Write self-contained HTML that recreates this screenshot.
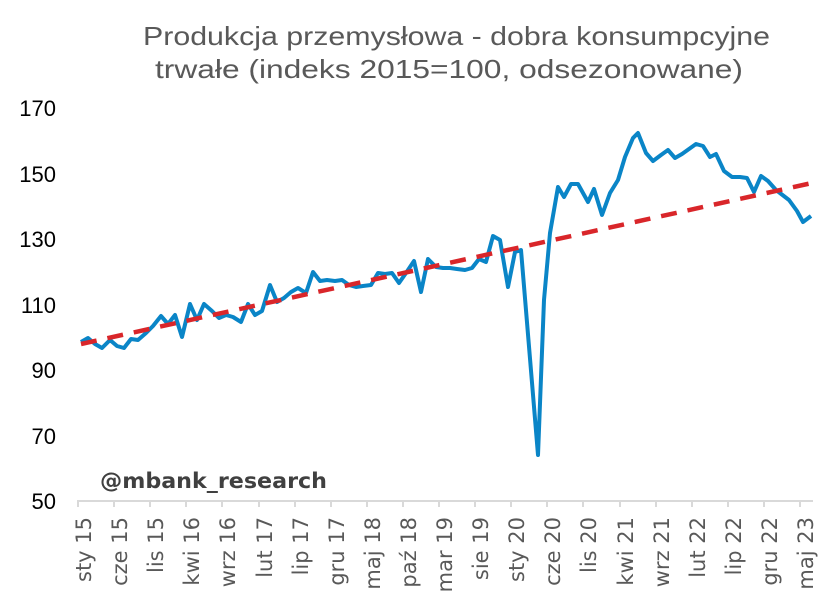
<!DOCTYPE html>
<html><head><meta charset="utf-8"><style>
html,body{margin:0;padding:0;background:#fff;}
svg{display:block;}
</style></head><body>
<svg width="840" height="611" viewBox="0 0 840 611" xmlns="http://www.w3.org/2000/svg">
<g font-family="Liberation Sans, DejaVu Sans, sans-serif" fill="#595959" font-size="26">
<text x="143" y="45" textLength="627" lengthAdjust="spacingAndGlyphs">Produkcja przemysłowa - dobra konsumpcyjne</text>
<text x="155" y="78" textLength="588" lengthAdjust="spacingAndGlyphs">trwałe (indeks 2015=100, odsezonowane)</text>
</g>
<g font-family="Liberation Sans, DejaVu Sans, sans-serif" fill="#000" font-size="22" text-anchor="end">
<text x="56" y="116">170</text>
<text x="56" y="182">150</text>
<text x="56" y="247">130</text>
<text x="56" y="313">110</text>
<text x="56" y="378">90</text>
<text x="56" y="444">70</text>
<text x="56" y="509">50</text>
</g>
<text x="100" y="488" font-family="DejaVu Sans, sans-serif" font-weight="bold" font-size="21" fill="#404040" textLength="227" lengthAdjust="spacingAndGlyphs">@mbank_research</text>
<g stroke="#d9d9d9" stroke-width="2">
<line x1="77" y1="501" x2="813" y2="501"/>
<line x1="78" y1="501" x2="78" y2="507"/><line x1="114" y1="501" x2="114" y2="507"/><line x1="150" y1="501" x2="150" y2="507"/><line x1="186" y1="501" x2="186" y2="507"/><line x1="222" y1="501" x2="222" y2="507"/><line x1="259" y1="501" x2="259" y2="507"/><line x1="295" y1="501" x2="295" y2="507"/><line x1="331" y1="501" x2="331" y2="507"/><line x1="367" y1="501" x2="367" y2="507"/><line x1="403" y1="501" x2="403" y2="507"/><line x1="439" y1="501" x2="439" y2="507"/><line x1="475" y1="501" x2="475" y2="507"/><line x1="511" y1="501" x2="511" y2="507"/><line x1="547" y1="501" x2="547" y2="507"/><line x1="583" y1="501" x2="583" y2="507"/><line x1="620" y1="501" x2="620" y2="507"/><line x1="656" y1="501" x2="656" y2="507"/><line x1="692" y1="501" x2="692" y2="507"/><line x1="728" y1="501" x2="728" y2="507"/><line x1="764" y1="501" x2="764" y2="507"/><line x1="800" y1="501" x2="800" y2="507"/>
</g>
<g font-family="DejaVu Sans, sans-serif" fill="#595959" font-size="21" text-anchor="end">
<text transform="translate(91,517) rotate(-90)">sty 15</text>
<text transform="translate(127,517) rotate(-90)">cze 15</text>
<text transform="translate(163,517) rotate(-90)">lis 15</text>
<text transform="translate(199,517) rotate(-90)">kwi 16</text>
<text transform="translate(235,517) rotate(-90)">wrz 16</text>
<text transform="translate(272,517) rotate(-90)">lut 17</text>
<text transform="translate(308,517) rotate(-90)">lip 17</text>
<text transform="translate(344,517) rotate(-90)">gru 17</text>
<text transform="translate(380,517) rotate(-90)">maj 18</text>
<text transform="translate(416,517) rotate(-90)">paź 18</text>
<text transform="translate(452,517) rotate(-90)">mar 19</text>
<text transform="translate(488,517) rotate(-90)">sie 19</text>
<text transform="translate(524,517) rotate(-90)">sty 20</text>
<text transform="translate(560,517) rotate(-90)">cze 20</text>
<text transform="translate(596,517) rotate(-90)">lis 20</text>
<text transform="translate(633,517) rotate(-90)">kwi 21</text>
<text transform="translate(669,517) rotate(-90)">wrz 21</text>
<text transform="translate(705,517) rotate(-90)">lut 22</text>
<text transform="translate(741,517) rotate(-90)">lip 22</text>
<text transform="translate(777,517) rotate(-90)">gru 22</text>
<text transform="translate(813,517) rotate(-90)">maj 23</text>
</g>
<polyline fill="none" stroke="#0a85c7" stroke-width="4" stroke-linejoin="round" points="81,342 88,338 95,344 102,348 110,340 117,346 124,348 131,339 138,340 146,333 153,326 161,316 168,324 175,315 182,337 190,304 197,320 204,304 212,311 219,318 226,315 233,317 241,322 248,304 255,315 262,311 270,285 277,302 284,298 291,292 298,288 306,293 313,272 320,281 327,280 335,281 342,280 349,285 356,287 363,286 371,285 378,273 385,274 392,273 399,283 406,273 414,261 421,292 428,259 436,267 443,268 450,268 457,269 465,270 472,268 479,259 486,262 493,236 500,240 508,287 515,252 521,250 538,455 544,300 550,233 558,187 564,197 571,184 578,184 588,202 594,189 602,215 610,193 618,180 625,157 633,138 638,133 646,153 653,161 661,155 668,150 675,158 682,154 689,149 696,144 703,146 710,157 716,154 724,171 732,177 740,177 747,178 754,192 761,176 768,181 776,190 789,200 797,211 803,222 811,216"/>
<line x1="81" y1="344" x2="812" y2="183" stroke="#d9262a" stroke-width="4.5" stroke-dasharray="16,11"/>
</svg>
</body></html>
